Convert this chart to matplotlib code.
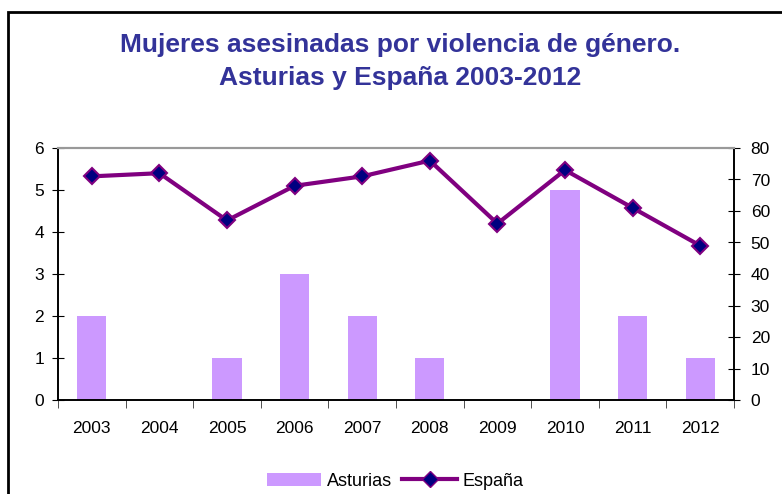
import numpy as np
import matplotlib.pyplot as plt
from matplotlib.patches import Rectangle
from matplotlib.lines import Line2D
from matplotlib.patches import Patch

plt.rcParams['font.family'] = ['Liberation Sans', 'DejaVu Sans']

years = ["2003", "2004", "2005", "2006", "2007", "2008", "2009", "2010", "2011", "2012"]
asturias = [2, 0, 1, 3, 2, 1, 0, 5, 2, 1]
espana = [71, 72, 57, 68, 71, 76, 56, 73, 61, 49]

W, H = 782, 494
fig = plt.figure(figsize=(W / 100, H / 100), dpi=100)
ax = fig.add_axes([58 / W, 1 - 400 / H, (734 - 58) / W, (400 - 148) / H])
ax2 = ax.twinx()

x = np.arange(len(years))
ax.bar(x, asturias, width=0.43, color="#CC99FF", zorder=2)
ax2.plot(x, espana, color="#800080", lw=3, marker="D", markersize=8,
         markerfacecolor="#000080", markeredgecolor="#800080", markeredgewidth=1.5, zorder=3)

ax.set_xlim(-0.5, len(years) - 0.5)
ax.set_ylim(0, 6)
ax2.set_ylim(0, 80)
ax.set_yticks(range(0, 7))
ax2.set_yticks(range(0, 90, 10))
ax.set_xticks(x)
ax.set_xticklabels(years)
ax.set_xticks(np.arange(-0.5, len(years)), minor=True)
ax.tick_params(axis="x", which="major", length=0, labelsize=12.5, pad=15)
ax.tick_params(axis="x", which="minor", length=6, direction="out", color="#333333")
ax.tick_params(axis="y", direction="inout", length=8, labelsize=12.5, pad=6)
ax2.tick_params(axis="y", direction="inout", length=8, labelsize=12.5, pad=8)

for a in (ax, ax2):
    a.spines["top"].set_color("#999999")
    a.spines["top"].set_linewidth(1.5)
    a.spines["left"].set_linewidth(1.2)
    a.spines["right"].set_linewidth(1.2)
    a.spines["bottom"].set_linewidth(1.2)

fig.text(400 / W, 1 - 45 / H, "Mujeres asesinadas por violencia de género.",
         ha="center", va="center", fontsize=19, fontweight="bold", color="#333399")
fig.text(400 / W, 1 - 78 / H, "Asturias y España 2003-2012",
         ha="center", va="center", fontsize=19, fontweight="bold", color="#333399")

handles = [Patch(facecolor="#CC99FF", label="Asturias"),
           Line2D([], [], color="#800080", lw=3, marker="D", markersize=8,
                  markerfacecolor="#000080", markeredgecolor="#800080", label="España")]
fig.legend(handles=handles, loc="center", bbox_to_anchor=(395 / W, 1 - 481 / H), ncol=2,
           frameon=False, fontsize=13, handlelength=3.0, handletextpad=0.3, columnspacing=0.6)

fig.patches.append(Rectangle((8 / W, -0.1), 1.2, 1 - 12 / H + 0.1, transform=fig.transFigure,
                             fill=False, edgecolor="black", lw=2))

fig.savefig("out.png", dpi=100)
